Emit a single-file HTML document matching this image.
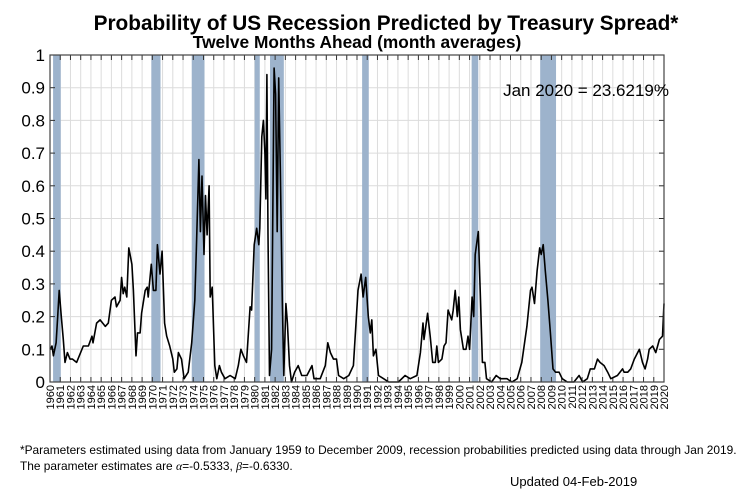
<!DOCTYPE html>
<html><head><meta charset="utf-8"><style>
body{margin:0;background:#fff;}
svg text{font-family:"Liberation Sans",Arial,sans-serif;}
</style></head><body>
<svg width="745" height="492" xmlns="http://www.w3.org/2000/svg">
<rect width="745" height="492" fill="#fff"/>
<text x="386" y="30" text-anchor="middle" font-size="20.8" font-weight="bold">Probability of US Recession Predicted by Treasury Spread*</text>
<text x="357" y="48" text-anchor="middle" font-size="17.3" font-weight="bold">Twelve Months Ahead (month averages)</text>
<g id="plot"></g>
<text x="20" y="454" font-size="11.9">*Parameters estimated using data from January 1959 to December 2009, recession probabilities predicted using data through Jan 2019.</text>
<text x="20" y="470" font-size="11.9">The parameter estimates are <tspan font-family="Liberation Serif" font-style="italic">α</tspan>=-0.5333, <tspan font-family="Liberation Serif" font-style="italic">β</tspan>=-0.6330.</text>
<text x="510" y="486" font-size="13">Updated 04-Feb-2019</text>
</svg>
<script>
const yearTicks = [];
for (let y = 1960; y <= 2020; y++) yearTicks.push(y);
const yTicks = [0,0.1,0.2,0.3,0.4,0.5,0.6,0.7,0.8,0.9,1];
const yTickLabels = ["0","0.1","0.2","0.3","0.4","0.5","0.6","0.7","0.8","0.9","1"];
const recessionStarts = [1960.3,1969.9,1973.85,1980.0,1981.5,1990.5,2001.2,2007.9];
const recessionEnds   = [1961.05,1970.8,1975.1,1980.5,1982.85,1991.15,2001.85,2009.45];
const seriesYears = [1960.0,1960.2,1960.33,1960.6,1960.75,1960.9,1961.1,1961.3,1961.47,1961.7,1961.95,1962.2,1962.6,1963.25,1963.75,1964.1,1964.2,1964.55,1964.9,1965.4,1965.7,1966.0,1966.35,1966.5,1966.85,1967.0,1967.15,1967.3,1967.5,1967.7,1968.0,1968.15,1968.4,1968.55,1968.8,1968.95,1969.3,1969.5,1969.6,1969.9,1970.1,1970.35,1970.5,1970.75,1970.95,1971.2,1971.4,1971.7,1972.0,1972.15,1972.4,1972.55,1972.85,1973.1,1973.5,1973.85,1974.15,1974.3,1974.55,1974.7,1974.85,1975.05,1975.2,1975.35,1975.55,1975.65,1975.85,1976.1,1976.3,1976.55,1976.75,1977.1,1977.6,1978.1,1978.4,1978.65,1978.9,1979.2,1979.55,1979.7,1979.95,1980.2,1980.4,1980.5,1980.7,1980.85,1981.0,1981.1,1981.2,1981.3,1981.45,1981.65,1981.9,1982.05,1982.2,1982.35,1982.5,1982.7,1982.85,1983.05,1983.2,1983.4,1983.6,1983.9,1984.25,1984.6,1985.1,1985.6,1985.8,1986.4,1986.9,1987.15,1987.4,1987.7,1988.0,1988.2,1988.7,1989.2,1989.65,1989.9,1990.1,1990.4,1990.6,1990.85,1991.1,1991.3,1991.45,1991.6,1991.85,1992.1,1992.6,1993.1,1994.05,1994.7,1995.2,1995.85,1996.2,1996.45,1996.55,1996.9,1997.15,1997.4,1997.65,1997.8,1997.95,1998.3,1998.5,1998.7,1998.9,1999.25,1999.4,1999.6,1999.8,1999.95,2000.1,2000.4,2000.65,2000.85,2001.0,2001.25,2001.4,2001.55,2001.85,2002.05,2002.25,2002.5,2002.65,2003.15,2003.6,2004.0,2004.65,2005.15,2005.65,2006.1,2006.6,2006.95,2007.1,2007.35,2007.6,2007.85,2008.0,2008.2,2008.4,2008.65,2008.9,2009.15,2009.4,2009.75,2010.05,2010.55,2011.2,2011.7,2012.05,2012.5,2012.8,2013.2,2013.5,2013.75,2014.15,2014.5,2014.8,2015.45,2015.95,2016.1,2016.45,2016.75,2017.1,2017.6,2017.9,2018.15,2018.4,2018.55,2018.9,2019.2,2019.55,2019.85,2020.0];
const seriesValues = [0.10,0.11,0.08,0.12,0.20,0.28,0.20,0.13,0.06,0.09,0.07,0.07,0.06,0.11,0.11,0.14,0.12,0.18,0.19,0.17,0.18,0.25,0.26,0.23,0.25,0.32,0.27,0.29,0.26,0.41,0.36,0.28,0.08,0.15,0.15,0.21,0.28,0.29,0.26,0.36,0.28,0.28,0.42,0.33,0.40,0.18,0.14,0.11,0.07,0.03,0.04,0.09,0.07,0.01,0.03,0.12,0.25,0.40,0.68,0.46,0.63,0.39,0.57,0.45,0.60,0.26,0.29,0.05,0.01,0.05,0.03,0.01,0.02,0.01,0.05,0.10,0.08,0.06,0.23,0.22,0.42,0.47,0.42,0.47,0.75,0.80,0.70,0.56,0.94,0.45,0.02,0.10,0.96,0.88,0.46,0.93,0.65,0.25,0.02,0.24,0.18,0.05,0.00,0.03,0.05,0.02,0.02,0.05,0.01,0.01,0.05,0.12,0.09,0.07,0.07,0.02,0.01,0.02,0.05,0.18,0.28,0.33,0.26,0.32,0.20,0.15,0.19,0.08,0.10,0.02,0.01,0.00,0.00,0.02,0.01,0.02,0.09,0.18,0.13,0.21,0.14,0.06,0.06,0.11,0.06,0.07,0.11,0.12,0.22,0.19,0.22,0.28,0.20,0.26,0.16,0.10,0.10,0.14,0.10,0.26,0.20,0.39,0.46,0.27,0.06,0.06,0.01,0.00,0.02,0.01,0.01,0.00,0.01,0.06,0.17,0.28,0.29,0.24,0.34,0.41,0.39,0.42,0.34,0.25,0.15,0.04,0.03,0.03,0.01,0.00,0.00,0.02,0.00,0.01,0.04,0.04,0.07,0.06,0.05,0.03,0.01,0.02,0.04,0.03,0.03,0.04,0.07,0.10,0.06,0.04,0.07,0.10,0.11,0.09,0.13,0.14,0.24];

const NS = "http://www.w3.org/2000/svg";
const L = 50, R = 664, T = 55, B = 382;
const xs = v => L + (v - 1960) / 60 * (R - L);
const ys = v => B - v * (B - T);
const g = document.getElementById('plot');
function mk(tag, attrs){ const e = document.createElementNS(NS, tag); for (const k in attrs) e.setAttribute(k, attrs[k]); g.appendChild(e); return e; }

yearTicks.forEach(y => {
  const e = mk('line', {x1: xs(y), x2: xs(y), y1: T, y2: B, stroke: '#dcdcdc', 'stroke-width': 1});
  
  
});
yTicks.forEach(v => {
  const e = mk('line', {x1: L, x2: R, y1: ys(v), y2: ys(v), stroke: '#dcdcdc', 'stroke-width': 1});
  
  
});
recessionStarts.forEach((s, i) => {
  const e = mk('rect', {x: xs(s), y: T, width: xs(recessionEnds[i]) - xs(s), height: B - T, fill: '#9db3cc'});
  
  
});
yearTicks.forEach(y => {
  const a = mk('line', {x1: xs(y), x2: xs(y), y1: B, y2: B - 5, stroke: '#333', 'stroke-width': 1});
  
  
  const b = mk('line', {x1: xs(y), x2: xs(y), y1: T, y2: T + 5, stroke: '#333', 'stroke-width': 1});
  
  
  const t = mk('text', {x: 0, y: 0, 'font-size': 11, 'text-anchor': 'end', transform: `translate(${xs(y) + 4},${B + 3}) rotate(-90)`});
  t.textContent = String(y);
  
  
});
yTicks.forEach((v, i) => {
  const a = mk('line', {x1: L, x2: L + 5, y1: ys(v), y2: ys(v), stroke: '#333'});
  
  
  const b = mk('line', {x1: R, x2: R - 5, y1: ys(v), y2: ys(v), stroke: '#333'});
  
  
  const t = mk('text', {x: L - 5, y: ys(v) + 6, 'font-size': 17, 'text-anchor': 'end'});
  t.textContent = yTickLabels[i];
  
  
});
const pts = seriesYears.map((y, i) => xs(y).toFixed(1) + ',' + ys(seriesValues[i]).toFixed(1)).join(' ');
const line = mk('polyline', {points: pts, fill: 'none', stroke: '#000', 'stroke-width': 1.6, 'stroke-linejoin': 'round'});


const fr = mk('rect', {x: L, y: T, width: R - L, height: B - T, fill: 'none', stroke: '#444', 'stroke-width': 1.2});


const ann = mk('text', {x: 669, y: 96, 'font-size': 17, 'text-anchor': 'end'});
ann.textContent = 'Jan 2020 = 23.6219%';


</script>
</body></html>
